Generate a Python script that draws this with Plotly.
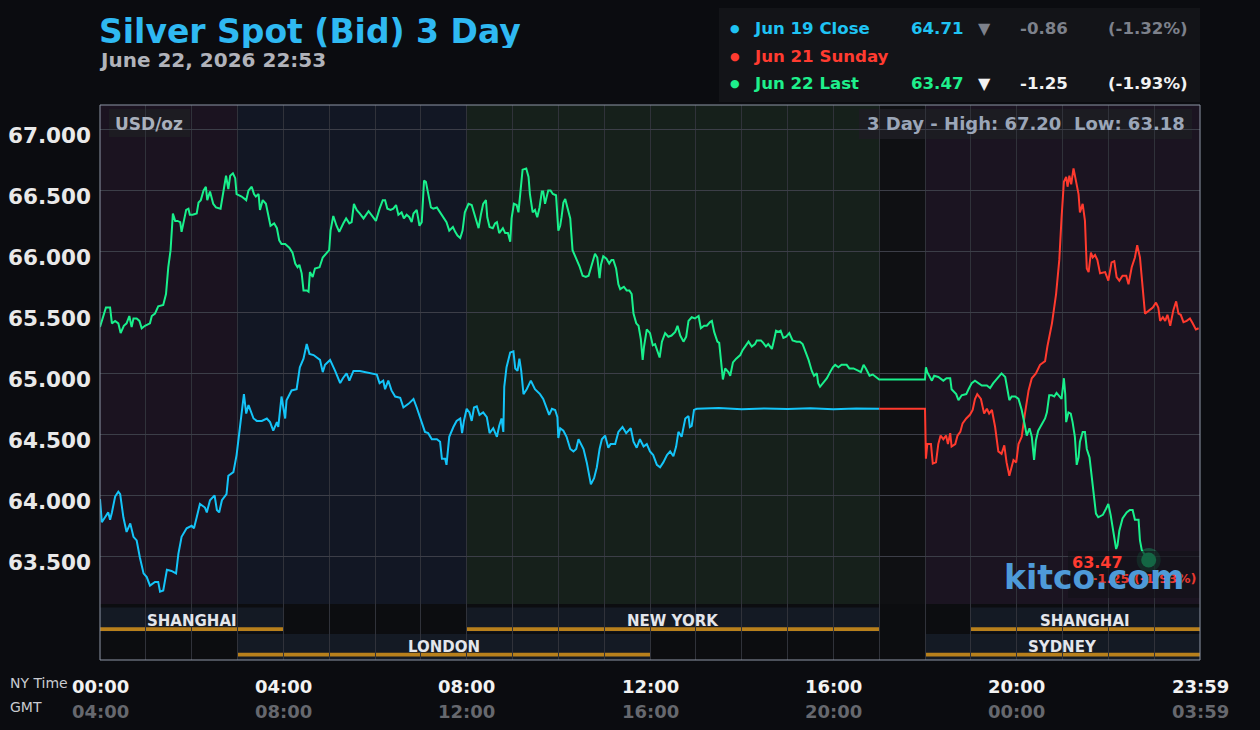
import plotly.graph_objects as go

# ---------------- data (NY time in hours, price USD/oz) ----------------
jun19_t = [0.00, 0.04, 0.11, 0.18, 0.22, 0.26, 0.33, 0.40, 0.44, 0.51, 0.58, 0.66, 0.73, 0.80, 0.87, 0.95,
           1.02, 1.09, 1.20, 1.27, 1.31, 1.38, 1.46, 1.56, 1.66, 1.71, 1.78, 1.89, 2.00, 2.05, 2.11, 2.18,
           2.29, 2.33, 2.40, 2.50, 2.55, 2.60, 2.66, 2.76, 2.80, 2.91, 2.98, 3.06, 3.14, 3.19, 3.24, 3.35,
           3.42, 3.53, 3.64, 3.71, 3.78, 3.86, 3.89, 3.96, 4.04, 4.07, 4.18, 4.29, 4.36, 4.44, 4.51, 4.57,
           4.66, 4.80, 4.86, 4.91, 5.02, 5.13, 5.24, 5.30, 5.38, 5.44, 5.53, 5.67, 5.82, 5.96,
           6.04, 6.10, 6.18, 6.22, 6.29, 6.36, 6.44, 6.55, 6.62, 6.73, 6.84, 6.91, 6.98, 7.09, 7.16, 7.24,
           7.35, 7.42, 7.46, 7.53, 7.56, 7.62, 7.71, 7.78, 7.86, 7.90, 7.94, 8.00, 8.06, 8.11, 8.16, 8.22,
           8.28, 8.36, 8.44, 8.50, 8.58, 8.66, 8.71, 8.76, 8.80, 8.82, 8.87, 8.95, 9.02, 9.06, 9.11, 9.15,
           9.19, 9.24, 9.31, 9.40, 9.49, 9.60, 9.67, 9.75, 9.80, 9.86, 9.93, 9.98, 10.00, 10.04, 10.11, 10.18,
           10.26, 10.33, 10.39, 10.44, 10.47, 10.55, 10.62, 10.71, 10.78, 10.84, 10.90, 10.95, 11.02, 11.09,
           11.14, 11.24, 11.31, 11.40, 11.48, 11.58, 11.64, 11.71, 11.78, 11.86, 11.93, 12.00, 12.07, 12.15,
           12.22, 12.29, 12.37, 12.44, 12.51, 12.57, 12.62, 12.69, 12.77, 12.84, 12.87, 12.91, 12.96, 13.02,
           13.50, 14.00, 14.50, 15.00, 15.50, 16.00, 16.50, 17.00]
jun19_p = [63.97, 63.78, 63.82, 63.86, 63.80, 63.86, 63.99, 64.03, 64.01, 63.82, 63.70, 63.77, 63.66, 63.63, 63.49, 63.36,
           63.33, 63.26, 63.29, 63.29, 63.21, 63.22, 63.39, 63.38, 63.36, 63.52, 63.66, 63.73, 63.75, 63.73, 63.82, 63.93,
           63.90, 63.86, 63.96, 64.00, 63.88, 63.86, 63.96, 64.01, 64.16, 64.19, 64.33, 64.56, 64.83, 64.67, 64.74, 64.63,
           64.61, 64.61, 64.63, 64.60, 64.53, 64.60, 64.56, 64.81, 64.63, 64.78, 64.86, 64.87, 65.05, 65.12, 65.24, 65.16,
           65.15, 65.11, 65.01, 65.07, 65.11, 65.02, 64.92, 64.96, 65.00, 64.94, 65.02, 65.02, 65.01, 65.00,
           64.99, 64.92, 64.94, 64.87, 64.94, 64.86, 64.81, 64.80, 64.72, 64.75, 64.79, 64.72, 64.64, 64.52, 64.51, 64.46,
           64.46, 64.44, 64.30, 64.30, 64.25, 64.48, 64.56, 64.61, 64.63, 64.51, 64.61, 64.71, 64.68, 64.61, 64.72, 64.73,
           64.66, 64.68, 64.64, 64.51, 64.55, 64.48, 64.57, 64.63, 64.52, 64.89, 65.05, 65.17, 65.18, 65.04, 65.02, 65.12,
           65.02, 64.83, 64.87, 64.94, 64.87, 64.83, 64.79, 64.70, 64.66, 64.71, 64.70, 64.64, 64.47, 64.55, 64.53, 64.48,
           64.38, 64.36, 64.38, 64.46, 64.44, 64.38, 64.27, 64.09, 64.14, 64.23, 64.38, 64.46, 64.49, 64.39,
           64.42, 64.42, 64.52, 64.56, 64.51, 64.55, 64.44, 64.39, 64.46, 64.40, 64.42, 64.36, 64.33, 64.25,
           64.23, 64.27, 64.33, 64.36, 64.32, 64.40, 64.52, 64.48, 64.63, 64.65, 64.56, 64.57, 64.70, 64.71,
           64.715, 64.705, 64.712, 64.708, 64.714, 64.706, 64.712, 64.71]

jun21_t = [17.00, 18.00, 18.02, 18.05, 18.13, 18.17, 18.24, 18.29, 18.34, 18.40, 18.46, 18.50, 18.55, 18.58,
           18.66, 18.71, 18.77, 18.82, 18.90, 18.98, 19.04, 19.09, 19.14, 19.22, 19.29, 19.35, 19.40, 19.46,
           19.53, 19.60, 19.67, 19.73, 19.78, 19.84, 19.93, 19.99, 20.04, 20.11, 20.18, 20.26, 20.33, 20.42,
           20.51, 20.62, 20.67, 20.77, 20.86, 20.93, 20.98, 21.03, 21.08, 21.11, 21.15, 21.19, 21.24, 21.30,
           21.35, 21.38, 21.44, 21.49, 21.53, 21.57, 21.62, 21.66, 21.71, 21.76, 21.82, 21.93, 22.00, 22.07,
           22.13, 22.18, 22.24, 22.31, 22.39, 22.44, 22.51, 22.58, 22.63, 22.69, 22.75, 22.80, 22.87, 22.97,
           23.04, 23.09, 23.13, 23.19, 23.24, 23.29, 23.35, 23.42, 23.48, 23.53, 23.58, 23.64, 23.71, 23.78,
           23.84, 23.91, 23.97]
jun21_p = [64.71, 64.71, 64.30, 64.42, 64.42, 64.26, 64.27, 64.42, 64.49, 64.46, 64.49, 64.42, 64.51, 64.40,
           64.42, 64.49, 64.52, 64.59, 64.63, 64.66, 64.70, 64.79, 64.83, 64.79, 64.67, 64.71, 64.67, 64.70,
           64.56, 64.36, 64.34, 64.41, 64.27, 64.16, 64.29, 64.27, 64.42, 64.48, 64.67, 64.86, 64.96, 65.00,
           65.07, 65.10, 65.22, 65.41, 65.65, 65.93, 66.28, 66.57, 66.61, 66.53, 66.62, 66.55, 66.68, 66.55,
           66.47, 66.32, 66.39, 66.25, 65.86, 65.83, 65.99, 65.95, 65.97, 65.93, 65.82, 65.83, 65.76, 65.91,
           65.92, 65.79, 65.76, 65.80, 65.80, 65.73, 65.87, 65.95, 66.05, 65.95, 65.68, 65.49, 65.51, 65.54,
           65.58, 65.54, 65.43, 65.46, 65.43, 65.48, 65.39, 65.52, 65.59, 65.49, 65.48, 65.42, 65.43, 65.45,
           65.41, 65.36, 65.37]

jun22_t = [0.00, 0.06, 0.13, 0.22, 0.26, 0.33, 0.40, 0.45, 0.52, 0.58, 0.64, 0.69, 0.73, 0.80, 0.86, 0.91,
           0.98, 1.09, 1.13, 1.20, 1.27, 1.38, 1.44, 1.49, 1.54, 1.59, 1.64, 1.69, 1.75, 1.78, 1.82, 1.88,
           1.93, 1.96, 2.02, 2.11, 2.15, 2.20, 2.26, 2.31, 2.34, 2.40, 2.47, 2.53, 2.63, 2.69, 2.75, 2.80,
           2.84, 2.90, 2.95, 2.98, 3.09, 3.19, 3.24, 3.31, 3.36, 3.40, 3.46, 3.49, 3.55, 3.62, 3.67, 3.72,
           3.80, 3.86, 3.91, 3.96, 4.04, 4.13, 4.20, 4.26, 4.31, 4.35, 4.40, 4.44, 4.51, 4.55, 4.58, 4.64,
           4.69, 4.79, 4.86, 4.95, 5.00, 5.03, 5.09, 5.16, 5.22, 5.31, 5.37, 5.44, 5.49, 5.54, 5.60, 5.67,
           5.75, 5.86, 5.96, 6.02, 6.10, 6.17, 6.22, 6.27, 6.34, 6.40, 6.46, 6.51, 6.58, 6.63, 6.69, 6.75,
           6.80, 6.84, 6.91, 6.97, 7.02, 7.07, 7.11, 7.16, 7.22, 7.27, 7.35, 7.42, 7.49, 7.56, 7.62, 7.70,
           7.75, 7.80, 7.86, 7.91, 7.96, 8.04, 8.11, 8.16, 8.22, 8.26, 8.31, 8.36, 8.42, 8.45, 8.50, 8.57,
           8.62, 8.66, 8.71, 8.79, 8.84, 8.90, 8.95, 8.98, 9.03, 9.09, 9.13, 9.18, 9.22, 9.30, 9.35, 9.38,
           9.44, 9.49, 9.54, 9.59, 9.64, 9.67, 9.71, 9.78, 9.83, 9.88, 9.95, 10.00, 10.04, 10.07, 10.11, 10.15,
           10.20, 10.26, 10.31, 10.39, 10.46, 10.53, 10.60, 10.66, 10.71, 10.76, 10.80, 10.85, 10.90, 10.93,
           10.98, 11.05, 11.11, 11.16, 11.20, 11.26, 11.31, 11.35, 11.43, 11.49, 11.55, 11.60, 11.64, 11.70,
           11.75, 11.80, 11.84, 11.87, 11.93, 12.00, 12.06, 12.11, 12.16, 12.21, 12.26, 12.33, 12.40, 12.47,
           12.55, 12.60, 12.66, 12.73, 12.79, 12.84, 12.91, 12.98, 13.06, 13.11, 13.18, 13.24, 13.31, 13.35,
           13.40, 13.47, 13.51, 13.54, 13.59, 13.64, 13.71, 13.75, 13.81, 13.88, 13.97, 14.02, 14.10, 14.15,
           14.22, 14.29, 14.33, 14.42, 14.47, 14.53, 14.58, 14.66, 14.71, 14.75, 14.80, 14.85, 14.91, 14.97,
           15.04, 15.11, 15.20, 15.27, 15.33, 15.38, 15.46, 15.53, 15.58, 15.64, 15.67, 15.71, 15.77, 15.86,
           15.93, 15.99, 16.04, 16.11, 16.18, 16.29, 16.35, 16.44, 16.55, 16.60, 16.66, 16.71, 16.79, 16.86,
           16.93, 17.00, 18.00, 18.02, 18.05, 18.10, 18.15, 18.20, 18.29, 18.40, 18.47, 18.55, 18.58, 18.68,
           18.73, 18.80, 18.90, 18.95, 19.02, 19.09, 19.17, 19.24, 19.35, 19.42, 19.49, 19.58, 19.67, 19.75,
           19.80, 19.84, 19.89, 19.97, 20.04, 20.11, 20.18, 20.22, 20.28, 20.33, 20.38, 20.42, 20.47, 20.55,
           20.62, 20.66, 20.71, 20.77, 20.82, 20.87, 20.93, 20.98, 21.01, 21.03, 21.06, 21.08, 21.13, 21.18,
           21.22, 21.27, 21.31, 21.35, 21.38, 21.44, 21.49, 21.53, 21.59, 21.64, 21.69, 21.73, 21.78, 21.88,
           21.95, 22.00, 22.05, 22.11, 22.17, 22.20, 22.24, 22.31, 22.40, 22.47, 22.53, 22.58, 22.66, 22.69,
           22.73, 22.80, 22.88]
jun22_p = [65.38, 65.45, 65.54, 65.54, 65.41, 65.43, 65.41, 65.33, 65.39, 65.41, 65.47, 65.38, 65.45, 65.45, 65.43, 65.37,
           65.39, 65.41, 65.47, 65.49, 65.55, 65.56, 65.65, 65.87, 66.01, 66.31, 66.25, 66.25, 66.24, 66.16, 66.24, 66.34,
           66.35, 66.30, 66.30, 66.31, 66.40, 66.42, 66.50, 66.53, 66.42, 66.49, 66.39, 66.36, 66.35, 66.47, 66.62, 66.51,
           66.62, 66.64, 66.60, 66.47, 66.45, 66.42, 66.50, 66.53, 66.47, 66.45, 66.47, 66.34, 66.42, 66.39, 66.31, 66.21,
           66.23, 66.19, 66.09, 66.06, 66.06, 66.03, 65.99, 65.90, 65.87, 65.89, 65.82, 65.68, 65.68, 65.67, 65.83, 65.79,
           65.86, 65.87, 65.95, 65.99, 66.01, 66.17, 66.29, 66.21, 66.16, 66.23, 66.27, 66.23, 66.24, 66.39, 66.34, 66.31,
           66.27, 66.33, 66.28, 66.25, 66.35, 66.42, 66.42, 66.35, 66.34, 66.35, 66.38, 66.30, 66.32, 66.27, 66.30, 66.28,
           66.24, 66.31, 66.34, 66.21, 66.24, 66.58, 66.57, 66.46, 66.36, 66.35, 66.36, 66.32, 66.28, 66.24, 66.17, 66.20,
           66.16, 66.13, 66.11, 66.17, 66.32, 66.39, 66.38, 66.31, 66.23, 66.19, 66.30, 66.39, 66.42, 66.28, 66.20, 66.19,
           66.23, 66.24, 66.15, 66.19, 66.15, 66.15, 66.08, 66.27, 66.39, 66.38, 66.32, 66.53, 66.67, 66.68, 66.61, 66.47,
           66.32, 66.34, 66.28, 66.36, 66.49, 66.49, 66.39, 66.50, 66.50, 66.47, 66.46, 66.17, 66.21, 66.28, 66.40, 66.43,
           66.36, 66.27, 66.01, 65.94, 65.88, 65.80, 65.79, 65.80, 65.86, 65.93, 65.98, 65.95, 65.78, 65.89,
           65.96, 65.94, 65.90, 65.93, 65.93, 65.86, 65.73, 65.69, 65.71, 65.68, 65.68, 65.65, 65.49, 65.41,
           65.39, 65.28, 65.11, 65.22, 65.36, 65.33, 65.23, 65.24, 65.19, 65.13, 65.26, 65.33, 65.30, 65.31,
           65.34, 65.39, 65.31, 65.26, 65.30, 65.43, 65.46, 65.45, 65.47, 65.37, 65.39, 65.39, 65.42, 65.43,
           65.34, 65.26, 65.25, 65.12, 64.95, 65.04, 65.01, 64.98, 65.09, 65.12, 65.15, 65.19, 65.24, 65.26,
           65.22, 65.24, 65.27, 65.27, 65.25, 65.22, 65.24, 65.20, 65.28, 65.35, 65.34, 65.35, 65.29, 65.30,
           65.33, 65.27, 65.26, 65.26, 65.24, 65.19, 65.11, 65.02, 64.98, 65.00, 64.92, 64.89, 64.92, 64.96,
           65.01, 65.05, 65.07, 65.05, 65.07, 65.07, 65.04, 65.04, 65.02, 65.01, 65.07, 65.04, 64.98, 64.99,
           64.97, 64.95, 64.95, 65.05, 65.01, 64.97, 64.94, 64.98, 64.97, 64.94, 64.96, 64.96, 64.87, 64.83,
           64.78, 64.82, 64.83, 64.87, 64.92, 64.94, 64.92, 64.90, 64.90, 64.88, 64.92, 64.96, 65.00, 64.97,
           64.86, 64.78, 64.81, 64.81, 64.79, 64.70, 64.57, 64.49, 64.55, 64.48, 64.29, 64.45, 64.53, 64.59,
           64.63, 64.68, 64.82, 64.82, 64.81, 64.84, 64.81, 64.79, 64.89, 64.96, 64.83, 64.60, 64.68, 64.67,
           64.60, 64.48, 64.25, 64.31, 64.44, 64.52, 64.52, 64.38, 64.31, 64.16, 64.01, 63.85, 63.82, 63.84,
           63.89, 63.93, 63.84, 63.69, 63.56, 63.59, 63.71, 63.81, 63.86, 63.88, 63.88, 63.80, 63.80, 63.63,
           63.55, 63.51, 63.47]

y_ticks = [63.5, 64.0, 64.5, 65.0, 65.5, 66.0, 66.5, 67.0]
y_tick_labels = ["63.500", "64.000", "64.500", "65.000", "65.500", "66.000", "66.500", "67.000"]
x_ticks = [0, 4, 8, 12, 16, 20, 24]
ny_labels = ["00:00", "04:00", "08:00", "12:00", "16:00", "20:00", "23:59"]
gmt_labels = ["04:00", "08:00", "12:00", "16:00", "20:00", "00:00", "03:59"]

# sessions: (name, start hour, end hour, row)
sessions = [("SHANGHAI", 0, 4, 1), ("NEW YORK", 8, 17, 1), ("SHANGHAI", 19, 24, 1),
            ("LONDON", 3, 12, 2), ("SYDNEY", 18, 24, 2)]
# background zones: (start, end, colour)
zones = [(0, 3, "#1b1320"), (3, 8, "#121724"), (8, 17, "#16201b"), (17, 18, "#0f1013"), (18, 24, "#1b1421")]

legend_rows = [
    ("Jun 19 Close", "#1fc3f3", "64.71", "#7d818b", "-0.86", "(-1.32%)"),
    ("Jun 21 Sunday", "#ff3b30", None, None, None, None),
    ("Jun 22 Last", "#1ef08c", "63.47", "#f2f2f2", "-1.25", "(-1.93%)"),
]

# ---------------- figure ----------------
W, H = 1260, 730
L, R, T, B = 100, 60, 105, 70
PH = H - T - B  # 555


def py(screen_y):
    return (H - B - screen_y) / PH


def px(screen_x):
    return (screen_x - L) / (W - L - R)


FONT = "DejaVu Sans"

fig = go.Figure()
fig.add_trace(go.Scatter(x=jun19_t, y=jun19_p, mode="lines", line=dict(color="#14c4f8", width=2),
                         name="Jun 19 Close", hoverinfo="skip"))
fig.add_trace(go.Scatter(x=jun21_t, y=jun21_p, mode="lines", line=dict(color="#ff3a2e", width=2),
                         name="Jun 21 Sunday", hoverinfo="skip"))
fig.add_trace(go.Scatter(x=jun22_t, y=jun22_p, mode="lines", line=dict(color="#19f08c", width=2),
                         name="Jun 22 Last", hoverinfo="skip"))
# last-price marker (glow + dot)
fig.add_trace(go.Scatter(x=[jun22_t[-1]], y=[jun22_p[-1]], mode="markers",
                         marker=dict(size=24, color="rgba(25,240,140,0.25)", line=dict(width=0)),
                         hoverinfo="skip"))
fig.add_trace(go.Scatter(x=[jun22_t[-1]], y=[jun22_p[-1]], mode="markers",
                         marker=dict(size=15, color="#19f08c", line=dict(width=0)), hoverinfo="skip"))

shapes = []
for x0, x1, col in zones:
    shapes.append(dict(type="rect", xref="x", yref="paper", x0=x0, x1=x1, y0=py(604), y1=1,
                       fillcolor=col, line=dict(width=0), layer="below"))
for name, s, e, row in sessions:
    if row == 1:
        top, bot, o0, o1 = 607.5, 631.5, 627.3, 631.0
    else:
        top, bot, o0, o1 = 634, 660, 652.8, 656.6
    shapes.append(dict(type="rect", xref="x", yref="paper", x0=s, x1=e, y0=py(bot), y1=py(top),
                       fillcolor="#141a24", line=dict(width=0), layer="below"))
    shapes.append(dict(type="rect", xref="x", yref="paper", x0=s, x1=e, y0=py(o1), y1=py(o0),
                       fillcolor="#b8801c", line=dict(width=0), layer="between"))
# info boxes
shapes.append(dict(type="rect", xref="paper", yref="paper", x0=px(109), x1=px(190), y0=py(137), y1=py(109),
                   fillcolor="#1d1c22", line=dict(width=0), layer="between"))
shapes.append(dict(type="rect", xref="paper", yref="paper", x0=px(859), x1=px(1192), y0=py(139), y1=py(109),
                   fillcolor="#1c1c22", line=dict(width=0), layer="between"))
# last price box (semi transparent over line)
shapes.append(dict(type="rect", xref="paper", yref="paper", x0=px(1068), x1=1, y0=py(598), y1=py(551),
                   fillcolor="rgba(18,18,24,0.62)", line=dict(width=0), layer="above"))
# legend box
shapes.append(dict(type="rect", xref="paper", yref="paper", x0=px(719), x1=1, y0=py(102), y1=py(8),
                   fillcolor="#131418", line=dict(width=0), layer="above"))
# plot border
shapes.append(dict(type="rect", xref="paper", yref="paper", x0=0, x1=1, y0=0, y1=1,
                   fillcolor="rgba(0,0,0,0)", line=dict(width=1, color="#8e96a6"), layer="above"))

ann = []


def A(text, x, y, size, color, xanchor="left", xref="paper", yref="paper", bold=True, **kw):
    ann.append(dict(text=("<b>%s</b>" % text) if bold else text, x=x, y=y, xref=xref, yref=yref,
                    xanchor=xanchor, yanchor="middle", showarrow=False,
                    font=dict(family=FONT, size=size, color=color), **kw))


# title (box heights trimmed so the two lines do not overlap)
A("Silver Spot (Bid) 3 Day", px(97), py(31), 33, "#2fb9f2", height=34)
A("June 22, 2026 22:53", px(97), py(60), 20, "#b1b3ba", height=22)

# legend
for i, (lab, col, val, chcol, ch, pct) in enumerate(legend_rows):
    yy = py(28 + 28 * i)
    A("●", px(735), yy, 11, col, xanchor="center", bold=False)
    A(lab, px(752), yy, 16.6, col)
    if val:
        A(val, px(909), yy, 16.6, col)
        A("▼", px(984), yy, 16, chcol, xanchor="center", bold=False)
        A(ch, px(1018), yy, 16.6, chcol)
        A(pct, px(1106), yy, 16.6, chcol)

# y tick labels
for v, t in zip(y_ticks, y_tick_labels):
    A(t, 0, v, 21.5, "#e9e9e9", xanchor="right", xref="paper", yref="y", xshift=-7, yshift=-6)

# x tick labels
for xv, a, b in zip(x_ticks, ny_labels, gmt_labels):
    A(a, xv, py(686), 18, "#f2f2f2", xanchor="center", xref="x")
    A(b, xv, py(711), 18, "#66686e", xanchor="center", xref="x")
A("NY Time", px(8), py(683), 14, "#c9cbd0", bold=False)
A("GMT", px(8), py(707), 14, "#c9cbd0", bold=False)

# info texts
A("USD/oz", px(113), py(124), 17, "#a9b0bc")
A("3 Day - High: 67.20\u00a0 Low: 63.18", px(1025.5), py(124), 18, "#9ba6b8", xanchor="center")

# session labels
for name, s, e, row in sessions:
    A(name, (s + e) / 2, py(621 if row == 1 else 647), 15, "#e4e6ec", xanchor="center", xref="x")

# last price label + watermark (watermark overlaps the label, as in the original)
A("63.47", px(1097), py(562), 16, "#ff3b30", xanchor="center")
A("-1.25 (-1.93%)", px(1144), py(578), 13, "#e8392f", xanchor="center")
A("kitco.com", px(1094), py(577), 33, "#4e9ad8", xanchor="center")

fig.update_layout(
    width=W, height=H,
    margin=dict(l=L, r=R, t=T, b=B, pad=0),
    paper_bgcolor="#0b0c10", plot_bgcolor="#0c0d10",
    showlegend=False, hovermode=False,
    shapes=shapes, annotations=ann,
    xaxis=dict(range=[0, 24], tickvals=list(range(0, 25)), showticklabels=False, ticks="",
               showgrid=True, gridcolor="#30323a", gridwidth=1, zeroline=False, showline=False,
               fixedrange=True),
    yaxis=dict(range=[62.65, 67.2], tickvals=y_ticks, showticklabels=False, ticks="",
               showgrid=True, gridcolor="#3c3e48", gridwidth=1, zeroline=False, showline=False,
               fixedrange=True),
)

fig.write_html("out.html", config={"displayModeBar": False})
